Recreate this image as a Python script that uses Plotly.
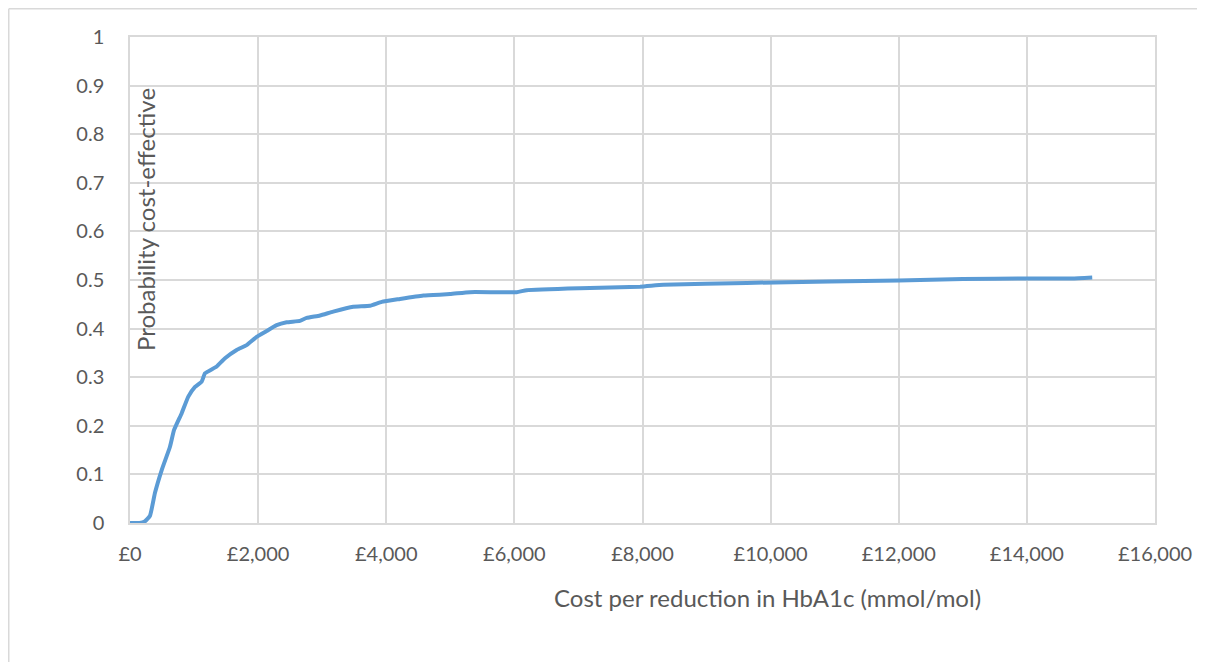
import plotly.graph_objects as go

cost = [0, 150, 230, 312, 390, 495, 624, 687, 807, 910, 1015, 1119, 1171, 1353, 1483, 1665,
        1821, 1977, 2133, 2289, 2445, 2653, 2758, 2966, 3172, 3485, 3746, 3929, 4215, 4579,
        4995, 5307, 6036, 6192, 7024, 7961, 8325, 9626, 10927, 12000, 13000, 14000, 14700, 15020]
prob = [0, 0, 0.003, 0.015, 0.062, 0.109, 0.157, 0.191, 0.226, 0.26, 0.28, 0.291, 0.308, 0.322,
        0.339, 0.356, 0.366, 0.383, 0.395, 0.407, 0.413, 0.416, 0.422, 0.427, 0.435, 0.445,
        0.447, 0.455, 0.461, 0.468, 0.471, 0.475, 0.475, 0.479, 0.483, 0.486, 0.49, 0.494,
        0.497, 0.499, 0.502, 0.503, 0.503, 0.505]

x_ticks = list(range(0, 16001, 2000))
x_labels = ["£0", "£2,000", "£4,000", "£6,000", "£8,000", "£10,000", "£12,000", "£14,000", "£16,000"]
y_ticks = [0, 0.1, 0.2, 0.3, 0.4, 0.5, 0.6, 0.7, 0.8, 0.9, 1]
y_labels = ["0", "0.1", "0.2", "0.3", "0.4", "0.5", "0.6", "0.7", "0.8", "0.9", "1"]

L, T, PW, PH = 122, 29, 1025, 486

fig = go.Figure()
fig.add_trace(go.Scatter(x=cost, y=prob, mode="lines",
                         line=dict(color="#5B9BD5", width=4, shape="spline", smoothing=0.4),
                         showlegend=False, hoverinfo="skip"))

fam = "Lato, Carlito, Calibri, sans-serif"
font = dict(family=fam, size=20, color="#595959")
grid = "#D9D9D9"
fig.update_layout(
    width=1197, height=654,
    margin=dict(l=L, r=50, t=T, b=139),
    paper_bgcolor="white", plot_bgcolor="white",
    font=font,
    xaxis=dict(range=[0, 16000], tickvals=x_ticks, ticktext=x_labels, showgrid=True,
               gridcolor=grid, gridwidth=1.5, zeroline=False, showline=True, linecolor=grid,
               linewidth=1.5, mirror=True, ticks="", ticklabelstandoff=12, fixedrange=True),
    yaxis=dict(range=[0, 1], tickvals=y_ticks, ticktext=y_labels, showgrid=True,
               gridcolor=grid, gridwidth=1.5, zeroline=False, showline=True, linecolor=grid,
               linewidth=1.5, mirror=True, ticks="", ticklabelstandoff=20, fixedrange=True),
    annotations=[
        dict(text="Probability cost-effective", xref="paper", yref="paper",
             x=(137 - L) / PW, y=(T + PH - 212) / PH, textangle=-90, showarrow=False,
             xanchor="center", yanchor="middle",
             font=dict(family=fam, size=24, color="#595959")),
        dict(text="Cost per reduction in HbA1c (mmol/mol)", xref="paper", yref="paper",
             x=(759 - L) / PW, y=-(589 - T - PH) / PH, showarrow=False,
             xanchor="center", yanchor="middle",
             font=dict(family=fam, size=24, color="#595959")),
    ],
    shapes=[
        dict(type="line", xref="paper", yref="paper", x0=(0.75 - L) / PW, x1=1.1,
             y0=1 + (T - 0.75) / PH, y1=1 + (T - 0.75) / PH,
             line=dict(color="#D9D9D9", width=1.5)),
        dict(type="line", xref="paper", yref="paper", x0=(0.75 - L) / PW, x1=(0.75 - L) / PW,
             y0=1 + (T - 0.75) / PH, y1=-0.4, line=dict(color="#D9D9D9", width=1.5)),
    ],
)

fig.write_html("out.html")
